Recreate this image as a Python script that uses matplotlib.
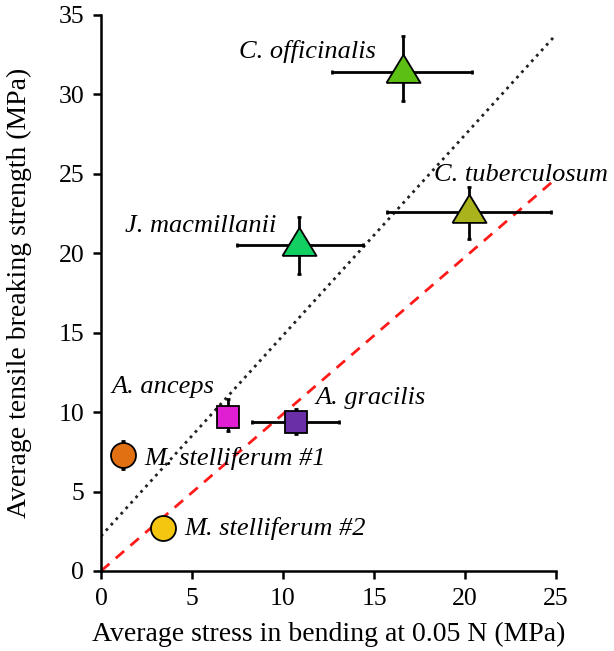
import numpy as np
import matplotlib
matplotlib.use("Agg")
import matplotlib.pyplot as plt

plt.rcParams['font.family'] = ['Liberation Serif', 'DejaVu Serif']

# data
species = ['C. officinalis', 'C. tuberculosum', 'J. macmillanii', 'A. anceps',
           'A. gracilis', 'M. stelliferum #1', 'M. stelliferum #2']
bend = [16.6, 20.2, 10.9, 7.0, 10.7, 1.2, 3.4]
bend_lo = [12.7, 15.7, 7.5, 7.0, 8.3, 1.2, 3.4]
bend_hi = [20.4, 24.7, 14.4, 7.0, 13.1, 1.2, 3.4]
tens = [31.4, 22.6, 20.5, 9.7, 9.4, 7.3, 2.7]
tens_lo = [29.6, 20.9, 18.7, 8.8, 8.6, 6.4, 2.7]
tens_hi = [33.7, 24.2, 22.3, 10.8, 10.2, 8.2, 2.7]
markers = ['tri', 'tri', 'tri', 's', 's', 'o', 'o']
colors = ['#5cbf14', '#abb31c', '#12cf62', '#e11fd2', '#6a2fa6', '#e07012', '#f5c60f']
# label anchors (x, y, ha)
lab_x = [15.1, 18.3, 1.3, 0.6, 11.8, 2.4, 4.6]
lab_y = [32.7, 24.9, 21.7, 11.6, 10.9, 7.1, 2.7]
lab_ha = ['right', 'left', 'left', 'left', 'left', 'left', 'left']

# reference lines
dot_x = [0, 24.95]
dot_y = [2.2, 33.7]
dash_x = [0, 24.8]
dash_y = [0, 24.5]

# wide, flat triangle like the original
tri = [(-1, -0.61), (1, -0.61), (0, 1.04), (-1, -0.61)]

fig = plt.figure(figsize=(6.14, 6.51), dpi=100)
ax = fig.add_axes([0.1645, 0.1229, 0.741, 0.8541])

ax.plot(dot_x, dot_y, ':', color='#222222', lw=2.0, zorder=1)
ax.plot(dash_x, dash_y, '--', color='#ff1a1a', lw=2.0, dashes=(4, 3), zorder=1)

for i in range(len(species)):
    xerr = [[bend[i] - bend_lo[i]], [bend_hi[i] - bend[i]]]
    yerr = [[tens[i] - tens_lo[i]], [tens_hi[i] - tens[i]]]
    ax.errorbar([bend[i]], [tens[i]], xerr=xerr, yerr=yerr, fmt='none',
                ecolor='black', elinewidth=2, capsize=1.5, capthick=2, zorder=2)
    if markers[i] == 'tri':
        mk, size = tri, 25.5
    elif markers[i] == 's':
        mk, size = 's', 16
    else:
        mk, size = 'o', 18
    ax.plot(bend[i], tens[i], marker=mk, ls='none', ms=size, mfc=colors[i],
            mec='black', mew=1.3, zorder=3)
    ax.text(lab_x[i], lab_y[i], species[i], ha=lab_ha[i], va='center',
            fontsize=19, style='italic')

ax.set_xlim(0, 25)
ax.set_ylim(0, 35)
ax.set_xticks([0, 5, 10, 15, 20, 25])
ax.set_yticks([0, 5, 10, 15, 20, 25, 30, 35])
ax.spines['top'].set_visible(False)
ax.spines['right'].set_visible(False)
ax.spines['left'].set_linewidth(1.8)
ax.spines['bottom'].set_linewidth(1.8)
ax.tick_params(width=1.8, length=6, labelsize=18.5, pad=6)
ax.set_xlabel('Average stress in bending at 0.05 N (MPa)', fontsize=20, labelpad=9)
ax.set_ylabel('Average tensile breaking strength (MPa)', fontsize=20)
ax.yaxis.set_label_coords(-0.152, 0.5)

fig.savefig('out.png', dpi=100)
